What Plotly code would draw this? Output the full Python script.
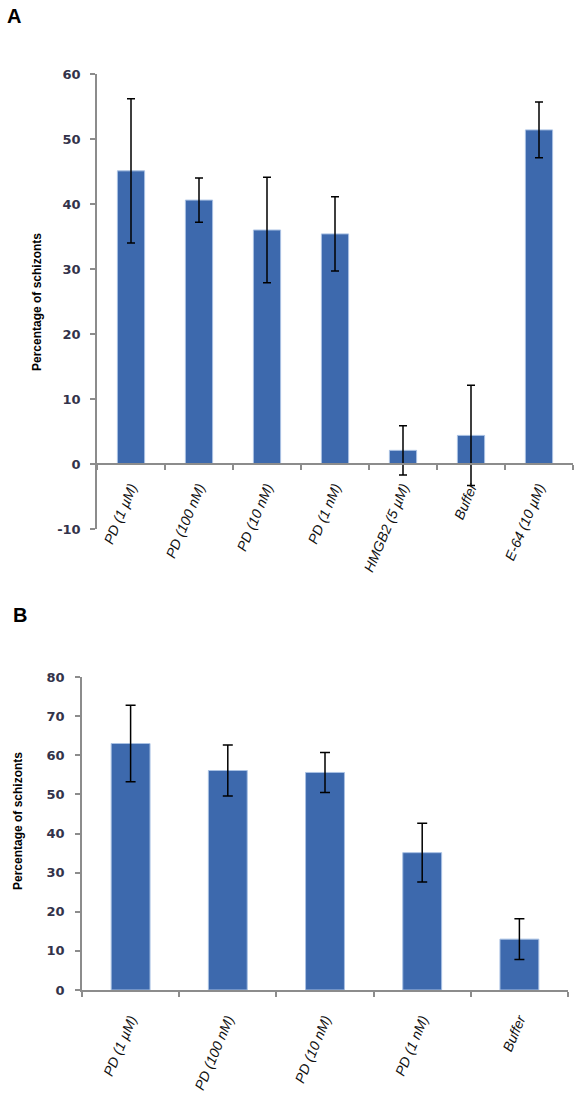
import plotly.graph_objects as go

# ---- Data ----
cats_a = ["PD (1 µM)", "PD (100 nM)", "PD (10 nM)", "PD (1 nM)", "HMGB2 (5 µM)", "Buffer", "E-64 (10 µM)"]
vals_a = [45.1, 40.6, 36.0, 35.4, 2.1, 4.4, 51.4]
errs_a = [11.1, 3.4, 8.1, 5.7, 3.8, 7.7, 4.3]

cats_b = ["PD (1 µM)", "PD (100 nM)", "PD (10 nM)", "PD (1 nM)", "Buffer"]
vals_b = [63.0, 56.1, 55.6, 35.1, 13.0]
errs_b = [9.8, 6.5, 5.1, 7.5, 5.2]

ticks_a = [-10, 0, 10, 20, 30, 40, 50, 60]
ticklabels_a = ["-10", "0", "10", "20", "30", "40", "50", "60"]
ticks_b = [0, 10, 20, 30, 40, 50, 60, 70, 80]
ticklabels_b = ["0", "10", "20", "30", "40", "50", "60", "70", "80"]
y_title = "Percentage of schizonts"

W, H = 580, 1098
BAR = "#3d69ad"
EDGE = "#a9c1e3"
AXC = "#8c8c8c"
TICKFONT = dict(family="DejaVu Sans", size=13, color="#33334a", weight="bold")
CATFONT = dict(family="Arial, Liberation Sans", size=14, color="#111111", style="italic")

fig = go.Figure()
fig.add_trace(go.Bar(
    x=cats_a, y=vals_a, xaxis="x", yaxis="y",
    marker=dict(color=BAR, line=dict(color=EDGE, width=1)),
    error_y=dict(type="data", array=errs_a, color="black", thickness=1.5, width=4),
    showlegend=False,
))
fig.add_trace(go.Bar(
    x=cats_b, y=vals_b, xaxis="x2", yaxis="y2",
    marker=dict(color=BAR, line=dict(color=EDGE, width=1)),
    error_y=dict(type="data", array=errs_b, color="black", thickness=1.5, width=5),
    showlegend=False,
))


def px_x(p):
    return p / W


def px_y(p):
    return 1 - p / H


ya_top, ya_bot = 74, 529
zero_a = ya_top + (ya_bot - ya_top) * 60 / 70

fig.update_layout(
    template="none",
    width=W, height=H,
    margin=dict(l=0, r=0, t=0, b=0, autoexpand=False),
    plot_bgcolor="white", paper_bgcolor="white",
    bargap=0.6,
    xaxis=dict(
        domain=[px_x(97), px_x(573)], anchor="free", position=px_y(zero_a),
        range=[-0.5, 6.5], showline=True, linecolor=AXC, linewidth=1.5,
        ticks="outside", tickson="boundaries", ticklen=5, tickcolor=AXC, tickwidth=1.5,
        tickangle=-67, tickfont=CATFONT, showgrid=False, automargin=False,
        ticklabelstandoff=9,
    ),
    yaxis=dict(
        domain=[px_y(ya_bot), px_y(ya_top)], anchor="x",
        range=[-10, 60], tickvals=ticks_a, ticktext=ticklabels_a,
        showline=True, linecolor=AXC, linewidth=1.5,
        ticks="outside", ticklen=5, tickcolor=AXC, tickwidth=1.5,
        tickfont=TICKFONT, showgrid=False, zeroline=False, ticklabelstandoff=7,
        automargin=False,
    ),
    xaxis2=dict(
        domain=[px_x(82), px_x(568)], anchor="y2",
        range=[-0.5, 4.5], showline=True, linecolor=AXC, linewidth=1.5,
        ticks="outside", tickson="boundaries", ticklen=5, tickcolor=AXC, tickwidth=1.5,
        tickangle=-67, tickfont=CATFONT, showgrid=False, ticklabelstandoff=14,
        automargin=False,
    ),
    yaxis2=dict(
        domain=[px_y(990), px_y(677)], anchor="x2",
        range=[0, 80], tickvals=ticks_b, ticktext=ticklabels_b,
        showline=True, linecolor=AXC, linewidth=1.5,
        ticks="outside", ticklen=5, tickcolor=AXC, tickwidth=1.5,
        tickfont=TICKFONT, showgrid=False, zeroline=False, ticklabelstandoff=8,
        automargin=False,
    ),
)

ann_font = dict(family="Arial, Liberation Sans", size=12, color="black", weight="bold")
fig.add_annotation(text=y_title, textangle=-90, x=px_x(37), y=px_y(302), xref="paper", yref="paper",
                   showarrow=False, font=ann_font, xanchor="center", yanchor="middle")
fig.add_annotation(text=y_title, textangle=-90, x=px_x(18), y=px_y(821), xref="paper", yref="paper",
                   showarrow=False, font=ann_font, xanchor="center", yanchor="middle")

lab_font = dict(family="Arial, Liberation Sans", size=20, color="black", weight="bold")
fig.add_annotation(text="A", x=px_x(14), y=px_y(16), xref="paper", yref="paper",
                   showarrow=False, font=lab_font, xanchor="center", yanchor="middle")
fig.add_annotation(text="B", x=px_x(20), y=px_y(615), xref="paper", yref="paper",
                   showarrow=False, font=lab_font, xanchor="center", yanchor="middle")

fig.write_html(
    "out.html",
    config={"displayModeBar": False},
    post_script="document.body.style.margin='0';document.body.style.overflow='hidden';",
)
